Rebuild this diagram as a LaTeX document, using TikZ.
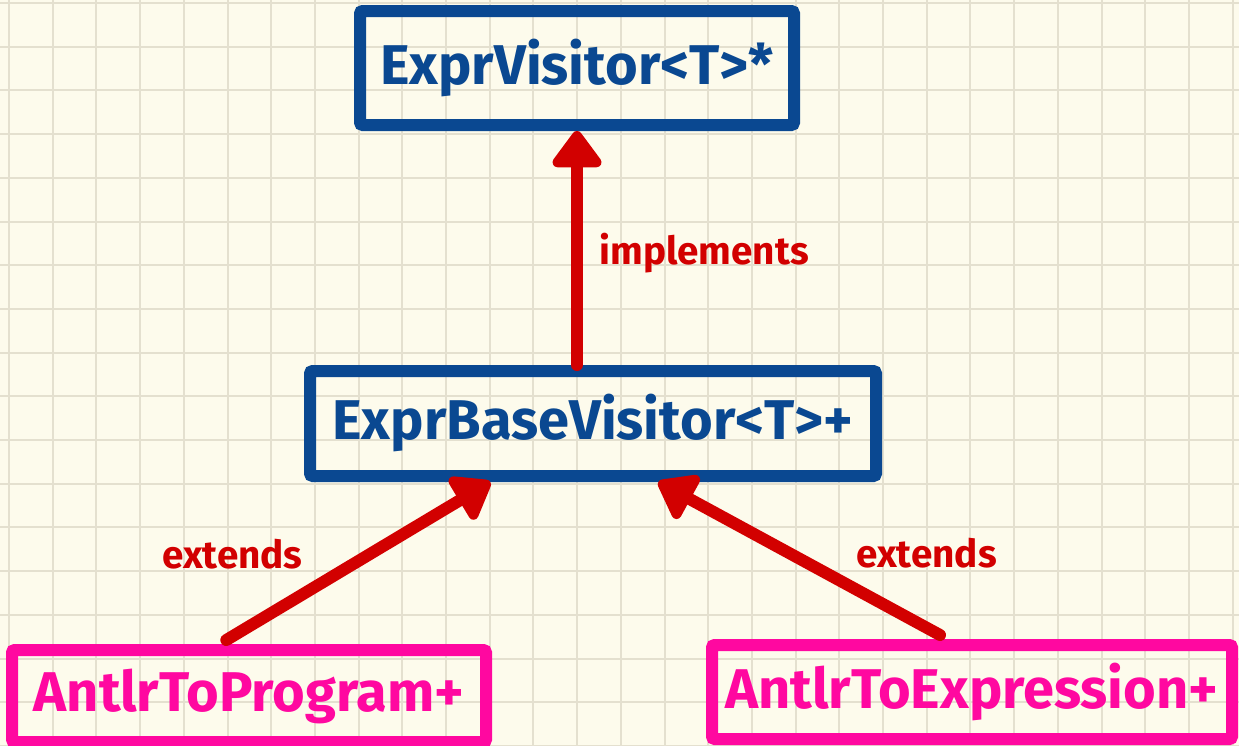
\documentclass[tikz,border=0pt]{standalone}
\usepackage{fontspec}
\setmainfont{Fira Sans}
\usepackage{xcolor}
\usetikzlibrary{arrows.meta}

\definecolor{paper}{RGB}{253,251,236}
\definecolor{gridgray}{RGB}{228,224,207}
\definecolor{darkblue}{RGB}{10,72,145}
\definecolor{hotpink}{RGB}{255,8,160}
\definecolor{arrowred}{RGB}{210,0,0}

\begin{document}
\begin{tikzpicture}[x=0.75pt,y=-0.75pt,
		ifacebox/.style={draw=darkblue, line width=9pt, rounded corners=2pt, text=darkblue, font=\bfseries\fontsize{42}{48}\selectfont},
		implbox/.style={draw=hotpink, line width=9pt, rounded corners=2pt, text=hotpink, font=\bfseries\fontsize{42}{48}\selectfont},
		relarrow/.style={draw=arrowred, line width=9pt, line cap=round, -{Triangle[length=30pt, width=42pt, round]}},
		rellabel/.style={text=arrowred, font=\bfseries\fontsize{29}{34}\selectfont}]
			\useasboundingbox (0,0) rectangle (1239,746);
			\fill[paper] (0,0) rectangle (1239,746);

			% Grid paper
			\foreach \i in {0,...,28}
			\draw[gridgray, line width=1.5pt] (9+43.7*\i,0) -- (9+43.7*\i,746);
			\foreach \j in {0,...,17}
			\draw[gridgray, line width=1.5pt] (0,3+43.7*\j) -- (1239,3+43.7*\j);

			% Interface and base class
			\node[ifacebox, minimum width=325.5pt, minimum height=85.5pt] (visitor) at (577,68) {ExprVisitor<T>*};
			\node[ifacebox, minimum width=424.5pt, minimum height=78.75pt] (basevisitor) at (593,423.5) {ExprBaseVisitor<T>+};

			% Concrete visitors
			\node[implbox, minimum width=355.5pt, minimum height=69pt] (toprogram) at (249,696) {AntlrToProgram+};
			\node[implbox, minimum width=390pt, minimum height=70.5pt] (toexpression) at (972,692) {AntlrToExpression+};

			% Relations
			\draw[relarrow] (basevisitor.north -| visitor.south) -- (visitor.south)
				node[midway, right=9pt, yshift=-4pt, rellabel] {implements};
			\draw[relarrow] ([xshift=-17pt,yshift=3pt]toprogram.north) -- ([xshift=-77pt]basevisitor.south)
				node[midway, left=34pt, yshift=5pt, rellabel] {extends};
			\draw[relarrow] ([xshift=-24pt,yshift=3pt]toexpression.north) -- ([xshift=49pt]basevisitor.south)
				node[midway, right=35pt, yshift=4pt, rellabel] {extends};
		\end{tikzpicture}
\end{document}
